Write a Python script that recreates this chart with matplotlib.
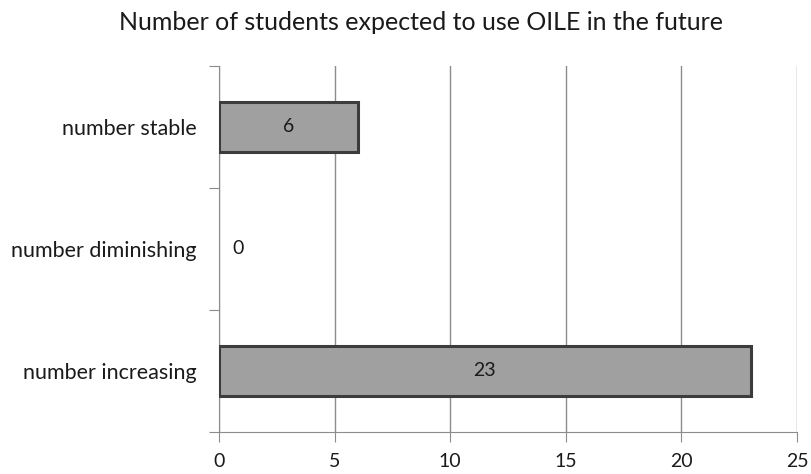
import numpy as np
import matplotlib.pyplot as plt

categories = ["number increasing", "number diminishing", "number stable"]
counts = [23, 0, 6]
xticks = [0, 5, 10, 15, 20, 25]

plt.rcParams['font.family'] = ['Lato', 'DejaVu Sans']

fig = plt.figure(figsize=(8.12, 4.74), dpi=100)
ax = fig.add_axes([219 / 812, 42 / 474, 578 / 812, 366 / 474])

y = np.arange(len(categories))
# an empty bar gets no outline
widths = [2.2 if v > 0 else 0 for v in counts]
bars = ax.barh(y, counts, height=0.41, color="#a0a0a0", edgecolor="#3c3c3c", linewidth=widths, zorder=3)

for yi, v in zip(y, counts):
    if v > 0:
        ax.text(v / 2, yi, str(v), ha="center", va="center", fontsize=14, color="#1a1a1a", zorder=4)
    else:
        ax.text(0.6, yi, str(v), ha="left", va="center", fontsize=14, color="#1a1a1a", zorder=4)

ax.set_xlim(0, 25)
ax.set_ylim(-0.5, 2.5)
ax.set_xticks(xticks)
ax.set_xticklabels([str(t) for t in xticks], fontsize=14, color="#1a1a1a")
ax.xaxis.grid(True, color="#8c8c8c", linewidth=1.0, zorder=0)

# category labels sit between the boundary ticks
ax.set_yticks([-0.5, 0.5, 1.5, 2.5])
ax.set_yticklabels([])
ax.set_yticks(y, minor=True)
ax.set_yticklabels(categories, minor=True, fontsize=15.5, color="#1a1a1a")
ax.tick_params(axis="y", which="minor", length=0, pad=16)
ax.tick_params(axis="y", which="major", length=7, color="#8c8c8c")
ax.tick_params(axis="x", length=7, color="#8c8c8c", pad=8)

for s in ["top", "right"]:
    ax.spines[s].set_visible(False)
ax.spines["left"].set_color("#8c8c8c")
ax.spines["bottom"].set_color("#8c8c8c")

fig.text(421 / 812, 1 - 22 / 474, "Number of students expected to use OILE in the future",
         ha="center", va="center", fontsize=18, color="#1a1a1a")

fig.savefig("out.png", dpi=100)
